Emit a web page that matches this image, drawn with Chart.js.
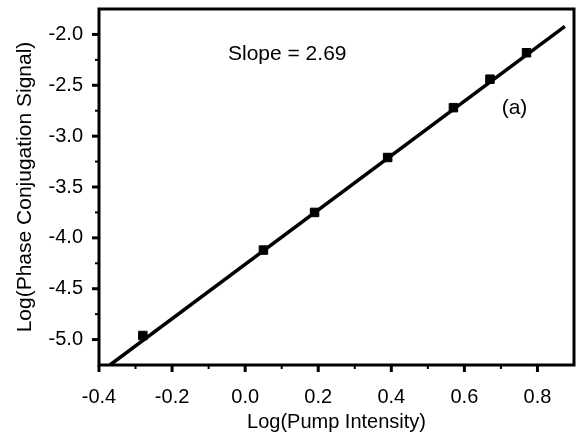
<!DOCTYPE html>
<html><head><meta charset="utf-8">
<script src="https://cdn.jsdelivr.net/npm/chart.js@4/dist/chart.umd.min.js"></script>
<style>html,body{margin:0;padding:0;background:#fff}#wrap{width:576px;height:438px}</style>
</head><body><div id="wrap"><canvas id="c" width="576" height="438"></canvas></div>
<script>
const pumpLog = [-0.28, 0.05, 0.19, 0.39, 0.57, 0.67, 0.77];
const signalLog = [-4.96, -4.12, -3.75, -3.21, -2.72, -2.44, -2.18];
const fitX = [-0.37, 0.875];
const fitY = [-5.25, -1.92];
const xTicks = [-0.4, -0.2, 0.0, 0.2, 0.4, 0.6, 0.8];
const yTicks = [-5.0, -4.5, -4.0, -3.5, -3.0, -2.5, -2.0];
const xMinor = [-0.3, -0.1, 0.1, 0.3, 0.5, 0.7];
const yMinor = [-4.75, -4.25, -3.75, -3.25, -2.75, -2.25];
const slopeText = 'Slope = 2.69';
const panelText = '(a)';

const FONT = "'Liberation Sans', Arial, sans-serif";

const framePlugin = {
  id: 'frame',
  afterDatasetsDraw(chart) {
    const {ctx, chartArea: a, scales: {x, y}} = chart;
    ctx.save();
    ctx.strokeStyle = '#000';
    ctx.lineWidth = 3;
    ctx.strokeRect(a.left, a.top, a.right - a.left, a.bottom - a.top);
    ctx.lineCap = 'butt';
    const tick = (px, py, dx, dy, w) => {
      ctx.lineWidth = w;
      ctx.beginPath(); ctx.moveTo(px, py); ctx.lineTo(px + dx, py + dy); ctx.stroke();
    };
    xTicks.forEach(v => tick(x.getPixelForValue(v), a.bottom, 0, 7, 3));
    xMinor.forEach(v => tick(x.getPixelForValue(v), a.bottom, 0, 4, 2));
    yTicks.forEach(v => tick(a.left, y.getPixelForValue(v), -7, 0, 3));
    yMinor.forEach(v => tick(a.left, y.getPixelForValue(v), -4, 0, 2));
    ctx.fillStyle = '#000';
    ctx.font = '21px ' + FONT;
    ctx.textBaseline = 'middle';
    ctx.textAlign = 'left';
    ctx.fillText(slopeText, x.getPixelForValue(-0.047), y.getPixelForValue(-2.19));
    ctx.fillText(panelText, x.getPixelForValue(0.702), y.getPixelForValue(-2.73));
    ctx.restore();
  }
};

new Chart(document.getElementById('c'), {
  type: 'scatter',
  data: {
    datasets: [
      {
        data: fitX.map((v, i) => ({x: v, y: fitY[i]})),
        showLine: true, borderColor: '#000', borderWidth: 3.5,
        pointRadius: 0, order: 2
      },
      {
        data: pumpLog.map((v, i) => ({x: v, y: signalLog[i]})),
        pointStyle: 'rect', pointRadius: 6, borderWidth: 1,
        backgroundColor: '#000', borderColor: '#000', order: 1
      }
    ]
  },
  options: {
    responsive: false, animation: false,
    layout: {autoPadding: false, padding: {top: 9, right: 2, left: 0, bottom: 0}},
    plugins: {legend: {display: false}, tooltip: {enabled: false}},
    scales: {
      x: {
        type: 'linear', min: -0.4, max: 0.9,
        afterBuildTicks: s => { s.ticks = xTicks.map(v => ({value: v})); },
        afterFit: s => { s.height = 73; s.paddingLeft = 0; s.paddingRight = 0; },
        grid: {display: false, drawTicks: false}, border: {display: false},
        ticks: {padding: 20, color: '#000', font: {family: FONT, size: 20},
                callback: v => Number(v).toFixed(1), maxRotation: 0, autoSkip: false},
        title: {display: true, text: 'Log(Pump Intensity)', color: '#000',
                font: {family: FONT, size: 20}, padding: {top: 0, bottom: 4}}
      },
      y: {
        type: 'linear', min: -5.25, max: -1.75,
        afterBuildTicks: s => { s.ticks = yTicks.map(v => ({value: v})); },
        afterFit: s => { s.width = 99; s.paddingTop = 0; s.paddingBottom = 0; },
        grid: {display: false, drawTicks: false}, border: {display: false},
        ticks: {padding: 16, color: '#000', font: {family: FONT, size: 20},
                callback: v => Number(v).toFixed(1), autoSkip: false},
        title: {display: true, text: 'Log(Phase Conjugation Signal)', color: '#000',
                font: {family: FONT, size: 21}, padding: {top: 13, bottom: 0}}
      }
    }
  },
  plugins: [framePlugin]
});
</script>
</body></html>
